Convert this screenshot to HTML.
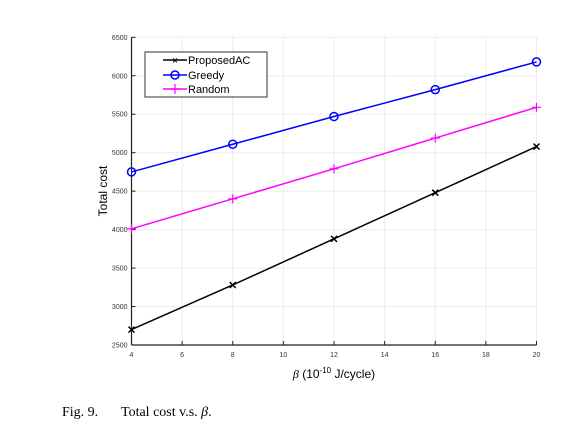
<!DOCTYPE html>
<html><head><meta charset="utf-8"><style>
body{margin:0;background:#fff;width:580px;height:437px;overflow:hidden}
text{font-family:"Liberation Sans",sans-serif}
</style></head><body>
<svg id="chart" width="580" height="437" xmlns="http://www.w3.org/2000/svg">
<g id="grid"></g>
<g id="axes"></g>
<g id="series"></g>
<text x="0" y="0" font-size="12" text-anchor="middle" transform="translate(107,191) rotate(-90)">Total cost</text>
<text x="334" y="378" font-size="12" text-anchor="middle"><tspan font-family="Liberation Serif" font-style="italic">β</tspan> (10<tspan dy="-5" font-size="8">-10</tspan><tspan dy="5"> J/cycle)</tspan></text>
<text y="416" font-size="14" style="font-family:'Liberation Serif',serif"><tspan x="62">Fig. 9.</tspan><tspan x="121">Total cost v.s. </tspan><tspan font-style="italic">β</tspan><tspan>.</tspan></text>
<g>
<rect x="145" y="52" width="122" height="45" fill="#fff" stroke="#333" stroke-width="1"/>
<g><line x1="163" y1="60" x2="187" y2="60" stroke="#000" stroke-width="1.5"/><text x="175" y="63.5" font-size="9" text-anchor="middle" font-weight="bold">×</text><text x="188" y="64" font-size="11">ProposedAC</text></g>
<g><line x1="163" y1="75" x2="187" y2="75" stroke="#00f" stroke-width="1.5"/><circle cx="175" cy="75" r="4" fill="none" stroke="#00f" stroke-width="1.5"/><text x="188" y="79" font-size="11">Greedy</text></g>
<g><line x1="163" y1="89" x2="187" y2="89" stroke="#f0f" stroke-width="1.5"/><path d="M175 84V94M170 89H180" stroke="#f0f" stroke-width="1.2"/><text x="188" y="93" font-size="11">Random</text></g>
</g>
</svg>
<script>
const xValues=[4,8,12,16,20];
const proposedAC=[2700,3280,3880,4480,5080];
const greedy=[4750,5110,5470,5820,6180];
const random=[4010,4400,4790,5190,5590];
const xTicks=[4,6,8,10,12,14,16,18,20];
const yTicks=[2500,3000,3500,4000,4500,5000,5500,6000,6500];
const NS="http://www.w3.org/2000/svg";
const X0=131.5,X1=536.5,Y0=345,Y1=37.3;
const xs=v=>X0+(v-4)/(20-4)*(X1-X0);
const ys=v=>Y0-(v-2500)/(6500-2500)*(Y0-Y1);
function mk(tag,attrs,parent){const e=document.createElementNS(NS,tag);for(const k in attrs)e.setAttribute(k,attrs[k]);parent.appendChild(e);return e;}
const grid=document.getElementById('grid'),axes=document.getElementById('axes'),ser=document.getElementById('series');
xTicks.forEach(t=>{const x=xs(t);
 const g=mk('line',{x1:x,x2:x,y1:Y1,y2:Y0,stroke:'#ececec','stroke-width':1},grid);
 
 
 const tk=mk('line',{x1:x,x2:x,y1:Y0,y2:Y0-4,stroke:'#222'},axes);
 
 
 const l=mk('text',{x:x,y:Y0+12,'font-size':7,'text-anchor':'middle',fill:'#333'},axes);l.textContent=t;
 
 
});
yTicks.forEach(t=>{const y=ys(t);
 const g=mk('line',{x1:X0,x2:X1,y1:y,y2:y,stroke:'#ececec','stroke-width':1},grid);
 
 
 const tk=mk('line',{x1:X0,x2:X0+4,y1:y,y2:y,stroke:'#222'},axes);
 
 
 const l=mk('text',{x:X0-4,y:y+2.5,'font-size':7,'text-anchor':'end',fill:'#333'},axes);l.textContent=t;
 
 
});
const xa=mk('line',{x1:X0,x2:X1,y1:Y0,y2:Y0,stroke:'#222','stroke-width':1.2},axes);


const ya=mk('line',{x1:X0,x2:X0,y1:Y1,y2:Y0,stroke:'#222','stroke-width':1.2},axes);


function series(vals,color,marker,name){
 const pl=mk('polyline',{points:vals.map((v,i)=>xs(xValues[i])+','+ys(v)).join(' '),fill:'none',stroke:color,'stroke-width':1.5},ser);
 
 
 vals.forEach((v,i)=>{const x=xs(xValues[i]),y=ys(v);let m;
  if(marker==='x')m=mk('path',{d:`M${x-3} ${y-3}L${x+3} ${y+3}M${x-3} ${y+3}L${x+3} ${y-3}`,stroke:color,'stroke-width':1.5},ser);
  else if(marker==='o')m=mk('circle',{cx:x,cy:y,r:4,fill:'none',stroke:color,'stroke-width':1.5},ser);
  else m=mk('path',{d:`M${x} ${y-4.5}V${y+4.5}M${x-4.5} ${y}H${x+4.5}`,stroke:color,'stroke-width':1.2},ser);
  
  
 });
}
series(proposedAC,'#000','x','proposedac');
series(greedy,'#00f','o','greedy');
series(random,'#f0f','+','random');
</script>
</body></html>
